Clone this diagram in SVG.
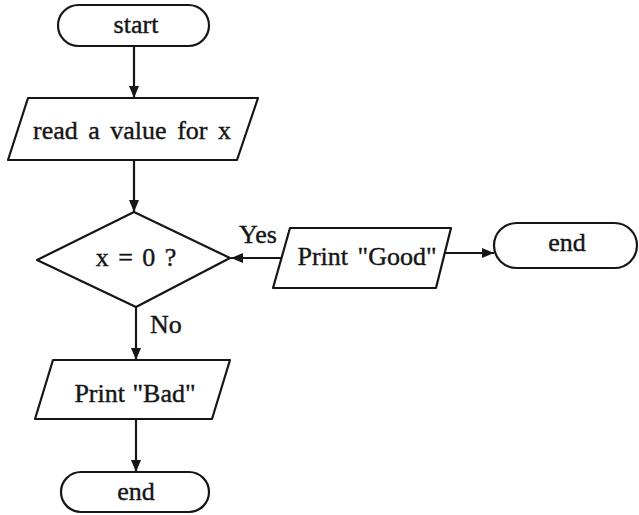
<svg xmlns="http://www.w3.org/2000/svg" width="639" height="515" viewBox="0 0 639 515">
<style>
.s{fill:#fff;stroke:#161616;stroke-width:2.2;stroke-linejoin:round}
.c{fill:none;stroke:#161616;stroke-width:2.2}
.t{font-family:"Liberation Serif","Times New Roman",serif;font-size:26px;fill:#161616;stroke:#161616;stroke-width:0.4;text-anchor:middle}
.l{font-family:"Liberation Serif","Times New Roman",serif;font-size:26px;fill:#161616;stroke:#161616;stroke-width:0.4}
</style>
<defs>
<marker id="ah" viewBox="0 0 12 10" refX="12" refY="5" markerWidth="12" markerHeight="10" markerUnits="userSpaceOnUse" orient="auto">
<path d="M0,0 L12,5 L0,10 z" fill="#161616"/>
</marker>
</defs>
<rect width="639" height="515" fill="#fff"/>
<g id="connectors">
<line class="c" x1="134" y1="46" x2="134" y2="98" marker-end="url(#ah)"/>
<line class="c" x1="134" y1="160" x2="134" y2="212" marker-end="url(#ah)"/>
<line class="c" x1="281" y1="258" x2="231" y2="258" marker-end="url(#ah)"/>
<line class="c" x1="442" y1="253" x2="494" y2="253" marker-end="url(#ah)"/>
<line class="c" x1="136" y1="307" x2="136" y2="360" marker-end="url(#ah)"/>
<line class="c" x1="136" y1="419" x2="136" y2="472" marker-end="url(#ah)"/>
<text class="l" x="239" y="243">Yes</text>
<text class="l" x="150" y="333">No</text>
</g>
<g id="start">
<rect class="s" x="58" y="5" width="151" height="41" rx="20.5"/>
<text class="t" x="136" y="33">start</text>
</g>
<g id="read">
<polygon class="s" points="28,98 258,98 237,160 8,160"/>
<text class="t" x="132" y="139" word-spacing="4">read a value for x</text>
</g>
<g id="decision">
<polygon class="s" points="134,212 230,258 136,307 37,260"/>
<text class="t" x="136" y="266" word-spacing="3">x = 0 ?</text>
</g>
<g id="printGood">
<polygon class="s" points="290,228 451,228 436,288 273,288"/>
<text class="t" x="367" y="265" word-spacing="3">Print "Good"</text>
</g>
<g id="endRight">
<rect class="s" x="494" y="223" width="143" height="45" rx="22.5"/>
<text class="t" x="567" y="251">end</text>
</g>
<g id="printBad">
<polygon class="s" points="53,360 230,360 212,419 35,419"/>
<text class="t" x="135" y="402" word-spacing="1">Print "Bad"</text>
</g>
<g id="endBottom">
<rect class="s" x="61" y="472" width="148" height="40" rx="20"/>
<text class="t" x="136" y="500">end</text>
</g>
</svg>
